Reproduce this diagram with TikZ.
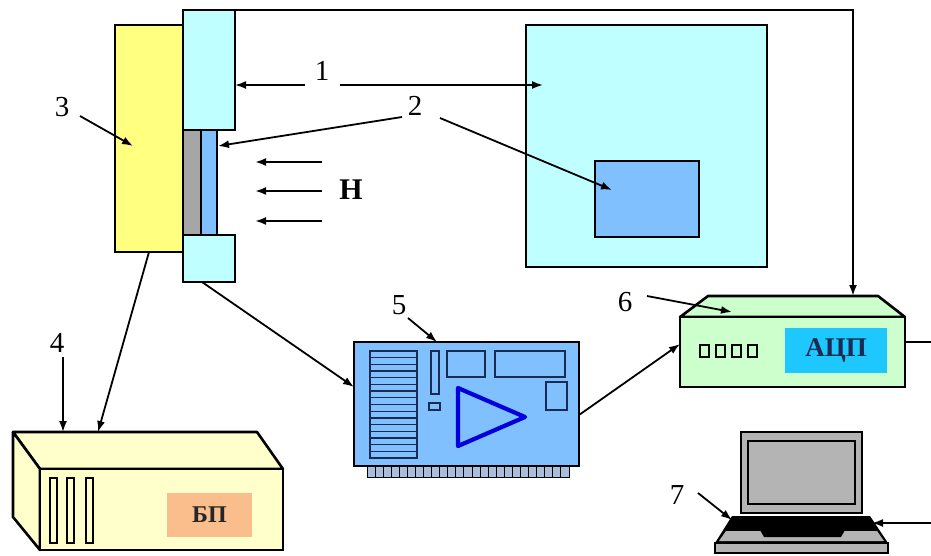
\documentclass[tikz,border=0pt]{standalone}
\usepackage{fontspec}
\setmainfont{Liberation Serif}
\usetikzlibrary{arrows.meta,calc}

\definecolor{holderyellow}{HTML}{FFFF80}
\definecolor{polecyan}{HTML}{C0FFFF}
\definecolor{sampleblue}{HTML}{80C0FF}
\definecolor{filmgray}{HTML}{A6A6A6}
\definecolor{psuyellow}{HTML}{FFFFCC}
\definecolor{psulabel}{HTML}{F9BE8C}
\definecolor{adcgreen}{HTML}{CCFFCC}
\definecolor{adclabel}{HTML}{1EC8FF}
\definecolor{pinblue}{HTML}{A8BEDC}
\definecolor{chipnavy}{HTML}{1A2A50}
\definecolor{ampblue}{HTML}{0000DD}
\definecolor{pcgray}{HTML}{B4B4B4}

\begin{document}
\begin{tikzpicture}[x=1pt,y=-1pt,
  blk/.style={inner sep=0pt, outer sep=0pt, anchor=north west},
  heavy/.style={draw=black, line width=2.6pt},
  light/.style={draw=black, line width=1.6pt},
  arr/.style={draw=black, line width=1.8pt, -{Latex[length=11pt,width=8pt]}},
  wire/.style={draw=black, line width=2pt},
  num/.style={font=\fontsize{29}{30}\selectfont, inner sep=1pt},
]
\useasboundingbox (0,0) rectangle (931,555);

% ---------- sample holder with poles ----------
\node[blk, heavy, fill=holderyellow, minimum width=68pt, minimum height=227pt] (holder) at (115,25) {};
\node[blk, light, fill=polecyan, minimum width=52pt, minimum height=120pt] (poleN) at (183,10) {};
\node[blk, light, fill=filmgray, minimum width=18pt, minimum height=105pt] (film) at (183,130) {};
\node[blk, light, fill=sampleblue, minimum width=16pt, minimum height=105pt] (sample) at (201,130) {};
\node[blk, light, fill=polecyan, minimum width=52pt, minimum height=47pt] (poleS) at (183,235) {};

% ---------- sensor plate ----------
\node[blk, heavy, fill=polecyan, minimum width=241pt, minimum height=242pt] (plate) at (526,25) {};
\node[blk, draw=black, line width=2.2pt, fill=sampleblue, minimum width=104pt, minimum height=76pt] (chip) at (595,161) {};

% ---------- field arrows ----------
\coordinate (h1) at (322,162);
\coordinate (h2) at (322,191);
\coordinate (h3) at (322,221);
\foreach \c in {h1,h2,h3}
  \draw[arr, line width=2.2pt] (\c) -- ++(-67,0);
\node[font=\fontsize{30}{31}\selectfont\bfseries] (field) at (351,190) {H};

% ---------- labels 1, 2, 3 ----------
\node[num] (n1) at (322,71) {1};
\coordinate (n1l) at (305,85);
\coordinate (n1r) at (340,85);
\coordinate (n1t) at (543,85);
\draw[arr] (n1l) -- (n1l -| poleN.east);
\draw[arr] (n1r) -- (n1t);

\node[num] (n2) at (415,106) {2};
\coordinate (n2l) at (402,117);
\coordinate (n2lt) at (218,146);
\coordinate (n2r) at (440,118);
\coordinate (n2rt) at (612,190);
\draw[arr] (n2l) -- (n2lt);
\draw[arr] (n2r) -- (n2rt);

\node[num] (n3) at (62,107) {3};
\coordinate (n3s) at (80,116);
\coordinate (n3t) at (133,146);
\draw[arr] (n3s) -- (n3t);

% ---------- power supply (4) ----------
\draw[heavy, fill=psuyellow, line join=round] (13,432) -- (257,432) -- (283,469) -- (40,469) -- cycle;
\draw[heavy, fill=psuyellow, line join=round] (13,432) -- (40,469) -- (40,550) -- (13,517) -- cycle;
\node[blk, heavy, fill=psuyellow, minimum width=243pt, minimum height=81pt] (psu) at (40,469) {};
\foreach \x in {50,67,86}
  \draw[draw=black, line width=2.2pt, fill=psuyellow] (\x,478) rectangle ++(7,65);
\node[blk, fill=psulabel, minimum width=85pt, minimum height=44pt] (psubox) at (167,493) {};
\node[font=\fontsize{24}{25}\selectfont\bfseries, text=black!85] (psutext) at (psubox.center) {БП};

\node[num] (n4) at (57,343) {4};
\coordinate (n4s) at (63,357);
\coordinate (n4t) at (63,432);
\draw[arr] (n4s) -- (n4t);
\coordinate (psuin) at (98,432);
\draw[arr] (holder.south) -- (psuin);

% ---------- amplifier card (5) ----------
\node[blk, light, fill=sampleblue, minimum width=225pt, minimum height=124pt] (card) at (354,342) {};
\foreach \i in {0,...,24}
  \draw[draw=black, line width=1pt, fill=pinblue] ({367+\i*8.08},466) rectangle ++(8.08,11);
\draw[draw=chipnavy, line width=1.5pt, fill=sampleblue] (370,351) rectangle (417,458);
\foreach \i in {1,...,15}
  \draw[draw=chipnavy, line width=1.3pt] (370,{351+\i*6.69}) -- (417,{351+\i*6.69});
\draw[draw=chipnavy, line width=1.5pt] (431,351) rectangle (439,394);
\draw[draw=chipnavy, line width=1.5pt] (429,403) rectangle (440,410);
\draw[draw=chipnavy, line width=1.5pt] (447,351) rectangle (485,377);
\draw[draw=chipnavy, line width=1.5pt] (495,351) rectangle (565,377);
\draw[draw=chipnavy, line width=1.5pt] (546,382) rectangle (567,410);
\draw[draw=ampblue, line width=4.2pt, line join=round] (458,388) -- (525,417) -- (458,446) -- cycle;

\node[num] (n5) at (399,305) {5};
\coordinate (n5s) at (408,318);
\coordinate (n5t) at (437,342);
\draw[arr] (n5s) -- (n5t);
\draw[arr] ([xshift=-7pt]poleS.south) -- ([yshift=17pt]card.west);

% ---------- ADC (6) ----------
\draw[heavy, fill=adcgreen, line join=round] (680,317) -- (708,296) -- (878,296) -- (905,317) -- cycle;
\node[blk, heavy, fill=adcgreen, minimum width=225pt, minimum height=70pt] (adc) at (680,317) {};
\foreach \x in {700,716,732,748}
  \draw[draw=black, line width=2.2pt, fill=adcgreen] (\x,345) rectangle ++(9,12);
\node[blk, fill=adclabel, minimum width=102pt, minimum height=45pt] (adcbox) at (785,328) {};
\node[font=\fontsize{27}{28}\selectfont\bfseries, text=chipnavy] (adctext) at (adcbox.center) {АЦП};

\node[num] (n6) at (625,302) {6};
\coordinate (n6s) at (647,296);
\coordinate (n6t) at (732,312);
\draw[arr] (n6s) -- (n6t);
\draw[arr] ([yshift=-11pt]card.east) -- ([yshift=8pt]adc.west);

\coordinate (adctop) at (853,296);
\draw[wire, -{Latex[length=11pt,width=8pt]}] (poleN.north east) -| (adctop);
\coordinate (adcout) at (931,342);
\draw[wire] (adcout -| adc.east) -- (adcout);

% ---------- computer (7) ----------
\node[blk, draw=black, line width=2.8pt, fill=pcgray, minimum width=121pt, minimum height=81pt] (screen) at (741,432) {};
\draw[draw=black, line width=2.8pt, fill=pcgray] (748,441) rectangle (855,504);
\fill[black] (732,516) -- (870,516) -- (888,543) -- (715,543) -- cycle;
\fill[pcgray] (726,531) -- (877,531) -- (884,541) -- (719,541) -- cycle;
\fill[black] (760,530) -- (845,530) -- (841,537) -- (764,537) -- cycle;
\node[blk, draw=black, line width=2.2pt, fill=pcgray, minimum width=173pt, minimum height=10pt] (pcbase) at (715,543) {};

\node[num] (n7) at (677,495) {7};
\coordinate (n7s) at (698,493);
\coordinate (n7t) at (732,520);
\draw[arr] (n7s) -- (n7t);
\coordinate (pcin) at (931,523);
\coordinate (pcint) at (872,523);
\draw[arr] (pcin) -- (pcint);
\end{tikzpicture}
\end{document}
